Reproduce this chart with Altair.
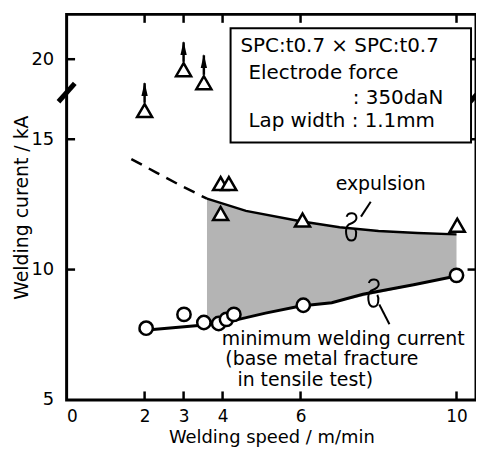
import altair as alt
import pandas as pd

# ---------------- data ----------------
# expulsion (triangles); first three have "higher than" arrows
tri_speed = [2.0, 3.0, 3.52, 3.95, 4.16, 3.95, 6.05, 10.02]
tri_current = [16.1, 19.6, 19.1, 13.3, 13.3, 12.15, 11.9, 11.7]
tri_arrow = [True, True, True, False, False, False, False, False]

# minimum welding current (circles)
circ_speed = [2.04, 3.01, 3.52, 3.9, 4.1, 4.29, 6.07, 10.0]
circ_current = [7.75, 8.28, 7.97, 7.93, 8.09, 8.28, 8.63, 9.78]

# expulsion boundary: dashed extrapolation and solid part
exp_dash_speed = [1.66, 2.29, 2.93, 3.6]
exp_dash_current = [14.24, 13.73, 13.22, 12.72]
exp_speed = [3.6, 4.6, 6.0, 7.0, 8.0, 9.0, 10.0]
exp_current = [12.72, 12.25, 11.85, 11.62, 11.48, 11.4, 11.35]
shade_lower = [7.88, 8.2, 8.6, 8.78, 9.1, 9.42, 9.75]

# minimum current line
min_speed = [1.85, 3.6, 4.3, 5.1, 6.0, 6.8, 7.6, 8.9, 10.0]
min_current = [7.65, 7.88, 8.05, 8.33, 8.6, 8.73, 9.05, 9.42, 9.75]

x_ticks = [2, 3, 4, 6, 10]
x_labels = [0, 2, 3, 4, 6, 10]
y_ticks = [5, 10, 15, 20]

# broken axis: above the break the scale is shifted down
BREAK_AT = 16.79      # display value where the axis is broken
SHIFT = 1.93          # kA removed by the break
X_MAX = 10.5
Y_MIN, Y_MAX = 5, 19.79


def disp(v):
    return v - SHIFT if v > BREAK_AT + SHIFT else v


FONT = "DejaVu Sans"

tri = pd.DataFrame({"s": tri_speed, "c": [disp(v) for v in tri_current], "a": tri_arrow})
arr = tri[tri.a].copy()
ARROW_LEN = 1.05
arr["y0"] = arr.c + 0.3
arr["y1"] = arr.c + ARROW_LEN
arr["yh"] = arr.c + ARROW_LEN - 0.22

circ = pd.DataFrame({"s": circ_speed, "c": circ_current})
dash = pd.DataFrame({"s": exp_dash_speed, "c": exp_dash_current})
expl = pd.DataFrame({"s": exp_speed, "c": exp_current, "lo": shade_lower})
minl = pd.DataFrame({"s": min_speed, "c": min_current})

xs = alt.Scale(domain=[0, X_MAX], nice=False, zero=False)
ys = alt.Scale(domain=[Y_MIN, Y_MAX], nice=False, zero=False)

tick_disp = [disp(v) for v in y_ticks]
label_expr = "datum.value > 17 ? '20' : format(datum.value, 'd')"

x_axis = alt.Axis(values=x_labels, title="Welding speed / m/min",
                  labelFontSize=17, titleFontSize=18, labelFont=FONT,
                  titleFont=FONT, labelPadding=9, titleY=43, titleBaseline="alphabetic",
                  ticks=False, domain=False, grid=False,
                  labelColor="black", titleColor="black", titleFontWeight="normal")
y_axis = alt.Axis(values=tick_disp, labelExpr=label_expr, title="Welding curent / kA",
                  labelFontSize=18, titleFontSize=19, labelFont=FONT,
                  titleFont=FONT, labelPadding=13, titlePadding=-1,
                  ticks=False, domain=False, grid=False,
                  labelColor="black", titleColor="black", titleFontWeight="normal")


def X(f="s"):
    return alt.X(f"{f}:Q", scale=xs, axis=x_axis, title="Welding speed / m/min")


def Y(f="c"):
    return alt.Y(f"{f}:Q", scale=ys, axis=y_axis, title="Welding curent / kA")


shade = alt.Chart(expl).mark_area(color="#b4b4b4", opacity=1).encode(
    x=X(), y=Y(), y2="lo:Q")

exp_line = alt.Chart(expl).mark_line(color="black", strokeWidth=2.5).encode(x=X(), y=Y())
dash_line = alt.Chart(dash).mark_line(color="black", strokeWidth=2.5,
                                      strokeDash=[12, 8]).encode(x=X(), y=Y())
min_line = alt.Chart(minl).mark_line(color="black", strokeWidth=3).encode(x=X(), y=Y())

circles = alt.Chart(circ).mark_point(shape="circle", size=180, filled=True, fill="white",
                                     stroke="black", strokeWidth=2.5, opacity=1).encode(
    x=X(), y=Y())
tris = alt.Chart(tri).mark_point(shape="triangle-up", size=230, filled=True, fill="white",
                                 stroke="black", strokeWidth=2.5, opacity=1).encode(
    x=X(), y=Y())

arrow_shaft = alt.Chart(arr).mark_rule(color="black", strokeWidth=2.5).encode(
    x=X(), y=Y("y0"), y2="y1:Q")
arrow_head = alt.Chart(arr).mark_point(shape="M0,-1L0.45,1L-0.45,1Z", size=200, filled=True,
                                       color="black", opacity=1).encode(
    x=X(), y=Y("yh"))

# inward ticks
tdf_x = pd.DataFrame({"s": x_ticks})
tdf_y = pd.DataFrame({"c": [disp(v) for v in [10, 15, 20]]})
tk = dict(color="black", thickness=2.5, size=9, opacity=1)
ticks_bottom = alt.Chart(tdf_x).mark_tick(orient="vertical", yOffset=-4, **tk).encode(
    x=X(), y=alt.datum(Y_MIN, scale=ys))
ticks_top = alt.Chart(tdf_x).mark_tick(orient="vertical", yOffset=4, **tk).encode(
    x=X(), y=alt.datum(Y_MAX, scale=ys))
ticks_left = alt.Chart(tdf_y).mark_tick(orient="horizontal", xOffset=4, **tk).encode(
    y=Y(), x=alt.datum(0, scale=xs))
ticks_right = alt.Chart(tdf_y).mark_tick(orient="horizontal", xOffset=-4, **tk).encode(
    y=Y(), x=alt.datum(X_MAX, scale=xs))

# axis break marks
brk = pd.DataFrame({"s": [0, X_MAX], "c": [BREAK_AT, BREAK_AT - 0.1]})
breaks = alt.Chart(brk).mark_point(shape="M-0.8,0.9L0.8,-0.9", size=420, filled=False,
                                   stroke="black", strokeWidth=5, opacity=1).encode(
    x=X(), y=Y())

# loops + leader lines
loop_path = ("M-0.3,-0.7 C-0.2,-1.05 0.4,-1.05 0.4,-0.6 C0.4,-0.3 0.0,-0.2 -0.15,-0.15 "
             "C-0.45,0.1 -0.4,1.0 0.05,1.0 C0.4,1.0 0.45,0.4 0.3,0.15")
loops = pd.DataFrame({"s": [7.29, 7.86], "c": [11.65, 9.11]})
loop_m = alt.Chart(loops).mark_point(shape=loop_path, size=800, filled=False, stroke="black",
                                     strokeWidth=2, opacity=1).encode(x=X(), y=Y())
leaders = pd.DataFrame({"s": [7.55, 8.02], "c": [12.03, 8.66],
                        "s2": [7.8, 8.28], "c2": [12.6, 7.9]})
leader_m = alt.Chart(leaders).mark_rule(color="black", strokeWidth=2).encode(
    x=X(), y=Y(), x2="s2:Q", y2="c2:Q")

# annotation texts
ann = pd.DataFrame({
    "s": [6.9, 3.98, 4.07, 4.38],
    "c": [13.29, 7.35, 6.55, 5.75],
    "t": ["expulsion", "minimum welding current", "(base metal fracture", "in tensile test)"],
})
ann_m = alt.Chart(ann).mark_text(align="left", baseline="middle", font=FONT, fontSize=19,
                                 color="black").encode(x=X(), y=Y(), text="t:N")

# condition box
box = alt.Chart(pd.DataFrame({"a": [0]})).mark_rect(fill="white", stroke="black",
                                                    strokeWidth=2).encode(
    x=alt.value(165), x2=alt.value(407), y=alt.value(14), y2=alt.value(129))
box_txt = pd.DataFrame({
    "x": [175, 183, 288, 183],
    "y": [32, 59, 84, 107],
    "t": ["SPC:t0.7 \u00d7 SPC:t0.7", "Electrode force", ": 350daN", "Lap width : 1.1mm"],
})
box_t = alt.Chart(box_txt).mark_text(align="left", baseline="middle", font=FONT, fontSize=20,
                                     color="black").encode(
    x=alt.X("x:Q", scale=None), y=alt.Y("y:Q", scale=None), text="t:N")

chart = alt.layer(
    shade, dash_line, exp_line, min_line, arrow_shaft, arrow_head, tris, circles,
    ticks_bottom, ticks_top, ticks_left, ticks_right, breaks, loop_m, leader_m, ann_m,
    box, box_t,
).properties(
    width=412, height=388,
    autosize=alt.AutoSizeParams(type="none"),
    padding={"left": 59, "top": 5, "right": 0, "bottom": 47},
    background="white",
).configure_view(stroke="black", strokeWidth=3)

chart.save("out.html", embed_options={"renderer": "svg", "actions": False})
